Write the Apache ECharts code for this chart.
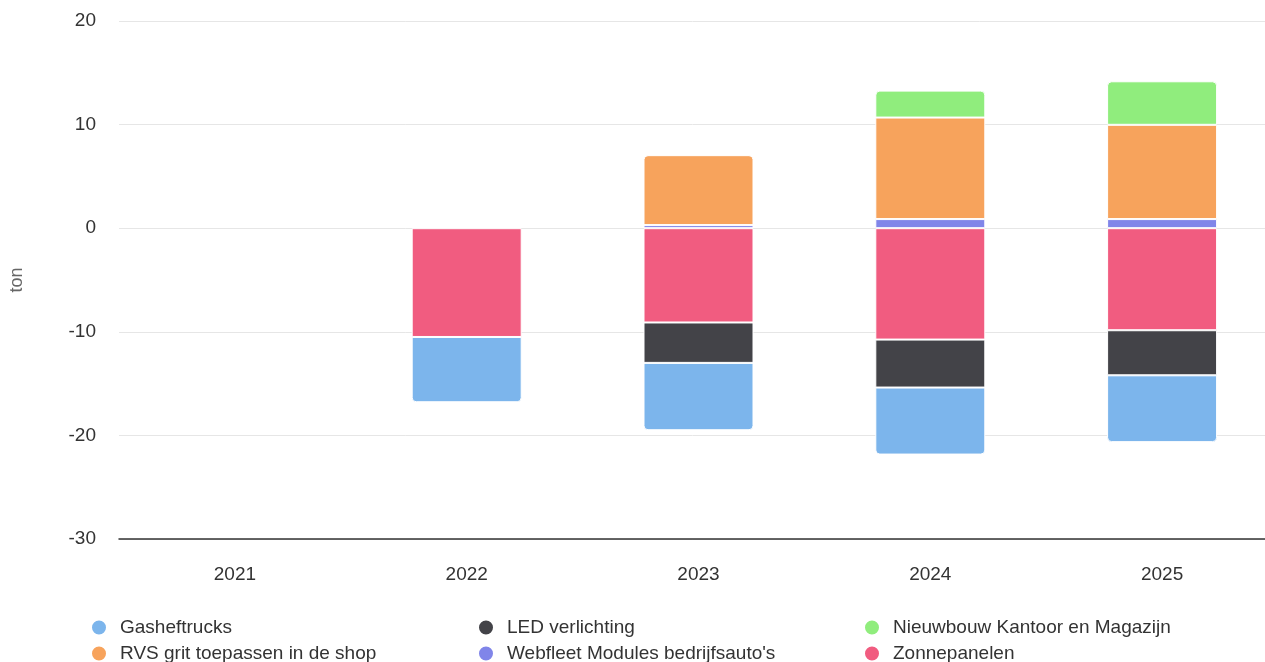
<!DOCTYPE html>
<html>
<head>
<meta charset="utf-8">
<script src="https://cdn.jsdelivr.net/npm/echarts@6/dist/echarts.min.js"></script>
<style>
html,body{margin:0;padding:0;background:#fff;overflow:hidden;}
#chart{width:1265px;height:662px;}
</style>
</head>
<body>
<div id="chart"></div>
<script>
const categories = ['2021', '2022', '2023', '2024', '2025'];
const gasheftrucks = [null, -6.3, -6.5, -6.47, -6.45];
const ledVerlichting = [null, null, -3.9, -4.63, -4.35];
const nieuwbouw = [null, null, null, 2.6, 4.2];
const rvsGrit = [null, null, 6.75, 9.8, 9.1];
const webfleet = [null, null, 0.3, 0.88, 0.88];
const zonnepanelen = [null, -10.5, -9.1, -10.75, -9.85];
const yTicks = { min: -30, max: 20, interval: 10 };
const legendRows = [
  ['Gasheftrucks', 'LED verlichting', 'Nieuwbouw Kantoor en Magazijn'],
  ['RVS grit toepassen in de shop', "Webfleet Modules bedrijfsauto's", 'Zonnepanelen']
];

const FONT = '"Liberation Sans", Arial, Helvetica, sans-serif';

// stacking order: positives from axis upward, negatives from axis downward
const seriesDefs = [
  { name: "Webfleet Modules bedrijfsauto's", data: webfleet, color: '#8085e9' },
  { name: 'RVS grit toepassen in de shop', data: rvsGrit, color: '#f7a35c' },
  { name: 'Nieuwbouw Kantoor en Magazijn', data: nieuwbouw, color: '#90ed7d' },
  { name: 'Zonnepanelen', data: zonnepanelen, color: '#f15c80' },
  { name: 'LED verlichting', data: ledVerlichting, color: '#434348' },
  { name: 'Gasheftrucks', data: gasheftrucks, color: '#7cb5ec' }
];

// find outermost segment of each stack side for rounded corners
const topIdx = categories.map((_, c) => {
  let t = -1, b = -1;
  seriesDefs.forEach((s, i) => {
    const v = s.data[c];
    if (v != null && v > 0) t = i;
    if (v != null && v < 0) b = i;
  });
  return { t, b };
});

const series = seriesDefs.map((s, i) => ({
  name: s.name,
  type: 'bar',
  stack: 'total',
  barWidth: 110,
  itemStyle: { color: s.color, borderColor: '#ffffff', borderWidth: 1 },
  emphasis: { disabled: true },
  data: s.data.map((v, c) => {
    let r = 0;
    if (topIdx[c].t === i) r = [4, 4, 0, 0];
    else if (topIdx[c].b === i) r = [0, 0, 4, 4];
    return { value: v, itemStyle: { borderRadius: r } };
  })
}));

const legendLefts = [90, 477, 863];
const legendTops = [618, 644];
const legends = [];
legendRows.forEach((row, r) => {
  row.forEach((name, k) => {
    legends.push({
      orient: 'horizontal',
      left: legendLefts[k],
      top: legendTops[r],
      data: [name],
      icon: 'circle',
      itemWidth: 16,
      itemHeight: 16,
      padding: 0,
      selectedMode: false,
      textStyle: { fontFamily: FONT, fontSize: 19, lineHeight: 16, color: '#333333', padding: [0, 0, 0, 8] }
    });
  });
});

const chart = echarts.init(document.getElementById('chart'), null, { renderer: 'canvas' });
chart.setOption({
  animation: false,
  backgroundColor: '#ffffff',
  grid: { left: 119, top: 21, width: 1159, height: 518, containLabel: false, outerBoundsMode: 'none' },
  legend: legends,
  xAxis: {
    type: 'category',
    data: categories,
    axisLine: { onZero: false, lineStyle: { color: '#333333', width: 1.5 } },
    axisTick: { show: false },
    axisLabel: { fontFamily: FONT, fontSize: 19, color: '#333333', margin: 26 },
    splitLine: { show: false }
  },
  yAxis: {
    type: 'value',
    min: yTicks.min,
    max: yTicks.max,
    interval: yTicks.interval,
    name: 'ton',
    nameLocation: 'middle',
    nameGap: 93,
    nameTextStyle: { fontFamily: FONT, fontSize: 18, color: '#666666' },
    axisLine: { show: false },
    axisTick: { show: false },
    axisLabel: { fontFamily: FONT, fontSize: 19, color: '#333333', margin: 23 },
    splitLine: { lineStyle: { color: '#e6e6e6', width: 1 } }
  },
  series: series
});
</script>
</body>
</html>
